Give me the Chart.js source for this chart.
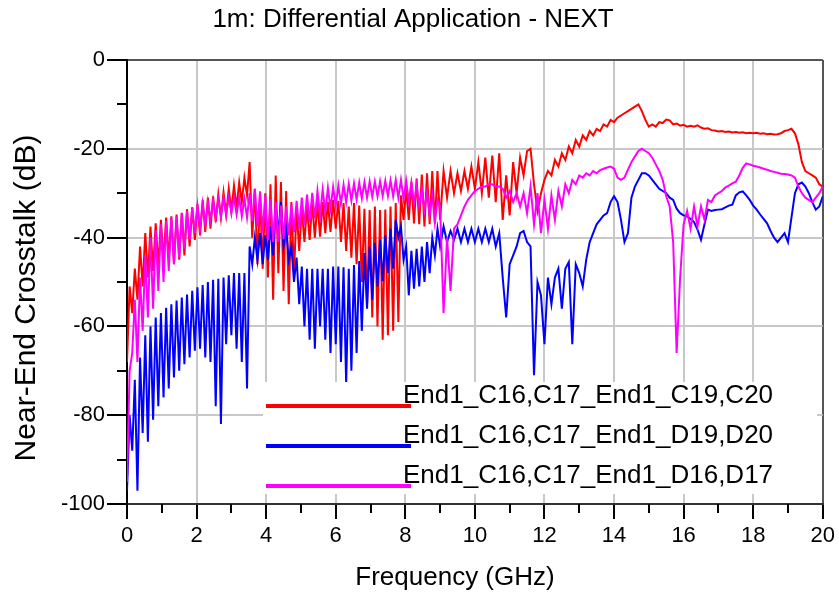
<!DOCTYPE html>
<html>
<head>
<meta charset="utf-8">
<title>1m: Differential Application - NEXT</title>
<script src="https://cdn.jsdelivr.net/npm/chart.js@4.4.1/dist/chart.umd.min.js"></script>
<style>
  html, body { margin: 0; padding: 0; background: #fff; }
  #wrap { width: 839px; height: 598px; }
</style>
</head>
<body>
<div id="wrap"><canvas id="nextChart" width="839" height="598"></canvas></div>
<script>
// 频率点 (GHz)：0-9 GHz 每 0.075，9-20 GHz 每 0.1
const freqGHz = [
  0, 0.075, 0.15, 0.225, 0.3, 0.375, 0.45, 0.525, 0.6, 0.675, 0.75, 0.825, 0.9, 0.975, 1.05, 1.125, 1.2, 1.275, 1.35, 1.425,
  1.5, 1.575, 1.65, 1.725, 1.8, 1.875, 1.95, 2.025, 2.1, 2.175, 2.25, 2.325, 2.4, 2.475, 2.55, 2.625, 2.7, 2.775, 2.85, 2.925,
  3, 3.075, 3.15, 3.225, 3.3, 3.375, 3.45, 3.525, 3.6, 3.675, 3.75, 3.825, 3.9, 3.975, 4.05, 4.125, 4.2, 4.275, 4.35, 4.425,
  4.5, 4.575, 4.65, 4.725, 4.8, 4.875, 4.95, 5.025, 5.1, 5.175, 5.25, 5.325, 5.4, 5.475, 5.55, 5.625, 5.7, 5.775, 5.85, 5.925,
  6, 6.075, 6.15, 6.225, 6.3, 6.375, 6.45, 6.525, 6.6, 6.675, 6.75, 6.825, 6.9, 6.975, 7.05, 7.125, 7.2, 7.275, 7.35, 7.425,
  7.5, 7.575, 7.65, 7.725, 7.8, 7.875, 7.95, 8.025, 8.1, 8.175, 8.25, 8.325, 8.4, 8.475, 8.55, 8.625, 8.7, 8.775, 8.85, 8.925,
  9, 9.1, 9.2, 9.3, 9.4, 9.5, 9.6, 9.7, 9.8, 9.9,
  10, 10.1, 10.2, 10.3, 10.4, 10.5, 10.6, 10.7, 10.8, 10.9,
  11, 11.1, 11.2, 11.3, 11.4, 11.5, 11.6, 11.7, 11.8, 11.9,
  12, 12.1, 12.2, 12.3, 12.4, 12.5, 12.6, 12.7, 12.8, 12.9,
  13, 13.1, 13.2, 13.3, 13.4, 13.5, 13.6, 13.7, 13.8, 13.9,
  14, 14.1, 14.2, 14.3, 14.4, 14.5, 14.6, 14.7, 14.8, 14.9,
  15, 15.1, 15.2, 15.3, 15.4, 15.5, 15.6, 15.7, 15.8, 15.9,
  16, 16.1, 16.2, 16.3, 16.4, 16.5, 16.6, 16.7, 16.8, 16.9,
  17, 17.1, 17.2, 17.3, 17.4, 17.5, 17.6, 17.7, 17.8, 17.9,
  18, 18.1, 18.2, 18.3, 18.4, 18.5, 18.6, 18.7, 18.8, 18.9,
  19, 19.1, 19.2, 19.3, 19.4, 19.5, 19.6, 19.7, 19.8, 19.9,
  20
];

// 曲线名称
const seriesNames = [
  'End1_C16,C17_End1_C19,C20',
  'End1_C16,C17_End1_D19,D20',
  'End1_C16,C17_End1_D16,D17'
];
const seriesColors = ['#ff0000', '#0000ff', '#ff00ff'];

// NEXT (dB) - C19,C20
const nextC19C20 = [
  -68, -51, -57, -47, -54, -42, -51, -39, -49, -37.5, -47.5, -36.8, -46.5, -36, -45.5, -35.5, -45, -35.2, -46, -34.8,
  -45, -34.4, -44, -33.6, -42, -33.2, -40.5, -32.5, -39.5, -31.5, -38.7, -31, -38, -30.7, -36.5, -30.3, -35.5, -29.8, -34.8, -29,
  -34, -28.3, -33.2, -27.6, -32, -26.5, -30.5, -23, -40, -29, -46, -30.5, -47, -30, -49, -28, -54, -26, -48, -27.5,
  -52, -29.5, -55, -32, -48, -33.5, -43, -33.5, -41, -33, -40.5, -32.2, -40, -32, -39.8, -32, -39, -32, -38.7, -31.5,
  -38, -31.7, -41, -32.2, -43, -33, -44.5, -32.2, -46, -32.8, -50, -33.5, -55, -33.8, -58, -33, -60, -33.8, -63, -33.7,
  -62, -33, -61, -32.2, -59, -30.5, -36, -29, -36, -27.5, -36.8, -26.7, -37, -25.8, -37.5, -25.5, -37, -25, -36.8, -25,
  -36, -25, -31, -25, -30, -25.5, -29.5, -25, -29, -24,
  -29, -23, -30, -22, -31, -21.5, -32, -21, -36, -26,
  -35, -23, -30, -22, -26, -20.5, -20, -28, -34, -30,
  -27, -25, -26, -22.5, -24, -21, -22.5, -19.5, -21, -18,
  -19.5, -17, -18, -16, -17, -15.5, -16, -14.5, -15, -13.5,
  -14, -13, -12.5, -12, -11.5, -11, -10.5, -10, -11.5, -13.5,
  -15, -14.5, -15, -14, -14.2, -13.4, -13.6, -14.5, -14.3, -14.8,
  -14.6, -15, -14.8, -15, -14.7, -15.2, -15.5, -15.4, -15.8, -15.9,
  -16.1, -16, -16.2, -16.1, -16.3, -16.2, -16.4, -16.3, -16.5, -16.4,
  -16.5, -16.4, -16.6, -16.5, -16.7, -16.6, -16.8, -16.7, -16.5, -16,
  -15.8, -15.5, -16.5, -19, -23, -25, -25.5, -26, -26.5, -28,
  -28.5
];

// NEXT (dB) - D19,D20
const nextD19D20 = [
  -97, -80, -88, -72, -97, -67, -84, -62, -86, -60, -81, -58, -78, -57, -76, -55.8, -74, -55, -71.5, -54.2,
  -70, -53.5, -68.5, -52.8, -67, -52, -65.5, -51.2, -65, -50.7, -67, -50, -68, -49.5, -78, -49.3, -82, -49, -64, -48.5,
  -62, -48, -65, -48, -68, -48, -74, -42, -46, -40, -45, -39, -46, -39.5, -45, -37.5, -44, -33, -39, -32,
  -42, -38, -45, -42, -50, -44.5, -55, -46.5, -60, -47, -63, -47, -65, -47, -60, -47, -63, -47, -66, -46.5,
  -64, -46.5, -68, -46.7, -73, -47, -70, -46.2, -66, -45.3, -61, -43.5, -56, -42, -54, -41.2, -51, -40.5, -49.8, -39.5,
  -48, -38, -47, -36, -40, -37.5, -45, -42, -53, -43, -51.5, -42.5, -51, -42, -50, -41, -48, -40, -44, -38,
  -42, -37.5, -41, -38.5, -40.5, -38, -41, -38, -41, -38,
  -41, -38, -41, -38, -41, -38, -42, -39, -49, -58,
  -46, -44, -42, -39, -38.5, -41, -42, -71, -50, -53,
  -64, -49, -55, -49, -47, -56, -47, -45.5, -64, -46,
  -48, -51, -45, -41, -39, -37, -36, -35, -34.5, -32,
  -30.7, -32, -36, -41, -39, -31, -28.5, -27, -25.5, -25.5,
  -26, -27, -28, -29, -29.5, -30, -31, -31.5, -33.5, -34.5,
  -35, -35.2, -35.8, -36.5, -38.2, -40.5, -37, -33.7, -34, -33.8,
  -33.7, -33.6, -33.2, -32.8, -32.6, -30.5, -29.8, -29.6, -30.5, -31.5,
  -32.8, -33.7, -34.8, -35.8, -36.8, -38.5, -40, -41, -40, -39,
  -41, -35.5, -30, -28, -27.6, -28.5, -30, -32, -33.7, -33,
  -30.7
];

// NEXT (dB) - D16,D17
const nextD16D17 = [
  -95, -70, -66, -54, -68, -49, -61, -44, -58, -40, -56, -38.3, -52, -37, -50, -36.2, -47.5, -35.5, -46, -35.2,
  -44.5, -34.6, -42.5, -34, -40.5, -33.2, -39, -32.8, -38, -32.4, -37, -32, -36, -31.7, -35.5, -31.3, -35.2, -31, -34.9, -31,
  -34.5, -31, -34.8, -31, -35.2, -31.3, -35.5, -30, -36.3, -29, -37.5, -29.6, -39, -30.4, -40.5, -31.3, -41, -32, -41, -32.8,
  -40.3, -33, -39.5, -32.5, -38.8, -31.7, -38, -31, -37.2, -30.3, -36.5, -29.9, -35.7, -29.5, -35, -29.2, -34.2, -28.8, -33.5, -28.6,
  -32.8, -28.3, -32.4, -28.1, -32, -27.9, -31.7, -27.8, -31.4, -27.6, -31.2, -27.5, -31, -27.4, -30.8, -27.4, -30.7, -27.3, -30.6, -27.2,
  -30.6, -27.1, -30.7, -27, -31, -27, -31.3, -27.2, -31.8, -27.6, -32.4, -28.2, -33, -29, -33.8, -29.7, -35, -30.5, -36.5, -31.5,
  -33, -57, -40, -52, -38, -37, -35, -33, -31.5, -30.5,
  -29.5, -29, -28.5, -28.5, -28, -28, -28.5, -28.5, -29, -31,
  -29.5, -32, -30, -33, -30, -34.5, -28.5, -37, -30, -39,
  -31.5, -38, -30.5, -36, -29.5, -33, -28, -30, -27, -28,
  -26, -26.5, -25.5, -26, -25, -25.5, -24.8, -24.5, -24.2, -24,
  -24.5, -26.5, -27, -26.5, -24.7, -23, -21.7, -20.5, -20, -20.5,
  -21, -22, -23.5, -25, -27, -30.7, -33, -41, -66, -49,
  -37, -34, -38, -33, -37.5, -33, -36, -31.5, -32, -30.5,
  -30, -29.5, -28.7, -28.3, -27.8, -27.4, -26, -24.3, -23.3, -23.5,
  -23.8, -24, -24.2, -24.5, -24.7, -25, -25.2, -25.4, -25.6, -25.7,
  -25.8, -26, -26.5, -28.5, -30, -31, -31.5, -32, -31, -30,
  -28.5
];

// 次刻度
const xMinorTicks = [1, 3, 5, 7, 9, 11, 13, 15, 17, 19];
const yMinorTicks = [-10, -30, -50, -70, -90];

const FONT = "'Liberation Sans', Arial, sans-serif";

function toPoints(values) {
  return freqGHz.map((f, i) => ({ x: f, y: values[i] }));
}

// 次刻度、坐标轴标题、图例
const decorPlugin = {
  id: 'decor',
  afterDatasetsDraw(chart) {
    const ctx = chart.ctx;
    const area = chart.chartArea;
    ctx.save();
    // 图例（画在曲线上方，白底）
    const bx = area.left + 136;
    const by = area.top + 322;
    ctx.fillStyle = '#fff';
    ctx.fillRect(bx, by, 554, 112);
    ctx.font = '26px ' + FONT;
    ctx.textAlign = 'left';
    ctx.textBaseline = 'alphabetic';
    seriesNames.forEach((name, i) => {
      const ly = by + 24 + i * 40;
      ctx.strokeStyle = seriesColors[i];
      ctx.lineWidth = 4;
      ctx.beginPath();
      ctx.moveTo(bx + 3, ly);
      ctx.lineTo(bx + 148, ly);
      ctx.stroke();
      ctx.fillStyle = '#000';
      ctx.fillText(name, bx + 140, ly - 3);
    });
    ctx.restore();
  },
  afterDraw(chart) {
    const ctx = chart.ctx;
    const xs = chart.scales.x;
    const ys = chart.scales.y;
    const area = chart.chartArea;
    ctx.save();
    ctx.strokeStyle = '#000';
    ctx.lineWidth = 2;
    ctx.beginPath();
    xMinorTicks.forEach(v => {
      const px = Math.round(xs.getPixelForValue(v));
      ctx.moveTo(px, area.bottom);
      ctx.lineTo(px, area.bottom + 9);
    });
    yMinorTicks.forEach(v => {
      const py = Math.round(ys.getPixelForValue(v));
      ctx.moveTo(area.left - 10, py);
      ctx.lineTo(area.left, py);
    });
    ctx.stroke();

    // 坐标轴标题
    ctx.fillStyle = '#000';
    ctx.textAlign = 'center';
    ctx.textBaseline = 'middle';
    ctx.font = '26px ' + FONT;
    ctx.fillText('Frequency (GHz)', 455, 578);
    ctx.font = '30px ' + FONT;
    ctx.translate(27, 298);
    ctx.rotate(-Math.PI / 2);
    ctx.fillText('Near-End Crosstalk (dB)', 0, 0);
    ctx.restore();
  }
};

new Chart(document.getElementById('nextChart'), {
  type: 'line',
  data: {
    datasets: [
      { label: seriesNames[0], data: toPoints(nextC19C20), borderColor: seriesColors[0], order: 3 },
      { label: seriesNames[1], data: toPoints(nextD19D20), borderColor: seriesColors[1], order: 2 },
      { label: seriesNames[2], data: toPoints(nextD16D17), borderColor: seriesColors[2], order: 1 }
    ]
  },
  options: {
    responsive: false,
    devicePixelRatio: 1,
    animation: false,
    layout: { padding: { left: 0, right: 13, top: 0, bottom: 0 } },
    elements: {
      point: { radius: 0 },
      line: { borderWidth: 2, tension: 0 }
    },
    plugins: {
      legend: { display: false },
      tooltip: { enabled: false },
      title: {
        display: true,
        text: '1m: Differential Application - NEXT',
        color: '#000',
        font: { family: FONT, size: 26, weight: 'normal' },
        padding: { top: 4, bottom: 24.8 }
      }
    },
    scales: {
      x: {
        type: 'linear',
        min: 0,
        max: 20,
        afterFit: s => { s.height = 94; },
        ticks: {
          stepSize: 2,
          color: '#000',
          font: { family: FONT, size: 22 },
          padding: 4,
          maxRotation: 0,
          autoSkip: false
        },
        grid: {
          color: c => (c.tick && c.tick.value === 20 ? '#555' : '#c8c8c8'),
          lineWidth: 2,
          tickLength: 15,
          tickColor: '#000',
          tickWidth: 2
        },
        border: { display: true, color: '#333', width: 2 }
      },
      y: {
        min: -100,
        max: 0,
        afterFit: s => { s.width = 127; },
        ticks: {
          stepSize: 20,
          color: '#000',
          font: { family: FONT, size: 22 },
          padding: 2
        },
        grid: {
          color: c => (c.tick && c.tick.value === 0 ? '#555' : '#c8c8c8'),
          lineWidth: 2,
          tickLength: 20,
          tickColor: '#000',
          tickWidth: 2
        },
        border: { display: true, color: '#000', width: 2 }
      }
    }
  },
  plugins: [decorPlugin]
});
</script>
</body>
</html>
